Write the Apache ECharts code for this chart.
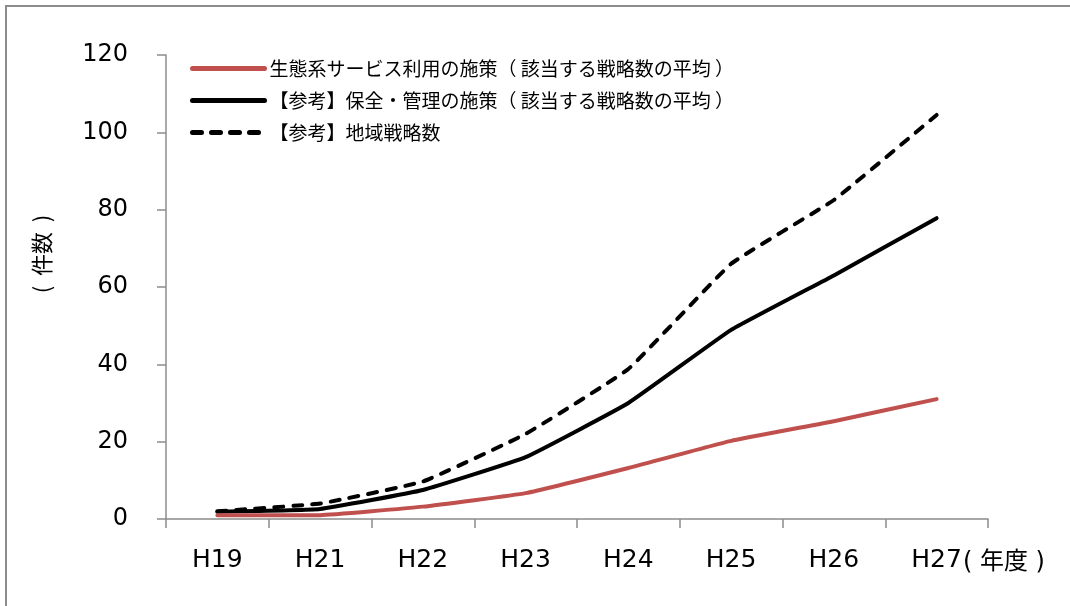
<!DOCTYPE html>
<html>
<head>
<meta charset="utf-8">
<script src="https://cdn.jsdelivr.net/npm/echarts@6/dist/echarts.min.js"></script>
<style>
html,body{margin:0;padding:0;background:#fff;}
#chart{width:1070px;height:606px;}
</style>
</head>
<body>
<div id="chart"></div>
<script>
var categories = ['H19', 'H21', 'H22', 'H23', 'H24', 'H25', 'H26', 'H27'];
var ecoServices = [1, 1, 3.2, 6.7, 13.2, 20.2, 25.3, 31];
var conservation = [1.9, 2.6, 7.5, 16, 30, 48.9, 63, 77.8];
var strategies = [2, 4, 9.7, 22, 38.8, 66, 82.5, 104.5];
var seriesNames = [
  '生態系サービス利用の施策（ 該当する戦略数の平均 ）',
  '【参考】保全・管理の施策（ 該当する戦略数の平均 ）',
  '【参考】地域戦略数'
];
var yTicks = {min: 0, max: 120, interval: 20};
var yName = '(  件数  )';
var xUnit = '( 年度 )';

var chart = echarts.init(document.getElementById('chart'));
var axisGray = '#8c8c8c';
var cjk = '"Noto Sans CJK JP", "Noto Sans", sans-serif';
chart.setOption({
  animation: false,
  backgroundColor: '#fff',
  grid: {left: 166, right: 82, top: 55, bottom: 87},
  legend: {
    orient: 'vertical',
    left: 185,
    top: 54,
    itemWidth: 72,
    itemHeight: 14,
    itemGap: 13,
    itemStyle: {opacity: 0},
    lineStyle: {width: 5},
    textStyle: {fontSize: 19, color: '#000', fontFamily: cjk},
    data: seriesNames
  },
  xAxis: {
    type: 'category',
    data: categories,
    boundaryGap: true,
    axisLine: {lineStyle: {color: axisGray, width: 1.5}},
    axisTick: {show: true, length: 9, inside: false, lineStyle: {color: axisGray, width: 1.5}},
    axisLabel: {margin: 29, fontSize: 25, color: '#000', fontFamily: '"DejaVu Sans", sans-serif'},
    splitLine: {show: false}
  },
  yAxis: {
    type: 'value',
    min: yTicks.min,
    max: yTicks.max,
    interval: yTicks.interval,
    axisLine: {show: true, lineStyle: {color: axisGray, width: 1.5}},
    axisTick: {show: true, length: 9, lineStyle: {color: axisGray, width: 1.5}},
    axisLabel: {margin: 38, fontSize: 24, color: '#000', fontFamily: '"DejaVu Sans", sans-serif'},
    splitLine: {show: false}
  },
  graphic: [
    {type: 'rect', shape: {x: 6, y: 6, width: 1200, height: 800}, style: {fill: 'none', stroke: axisGray, lineWidth: 2}, silent: true, z: -10},
    {type: 'text', x: 42, y: 254, rotation: Math.PI / 2,
     style: {text: yName, font: '22px ' + cjk, fill: '#000', textAlign: 'center', textVerticalAlign: 'middle'}},
    {type: 'text', x: 963, y: 563,
     style: {text: xUnit, font: '24px "DejaVu Sans", "Noto Sans CJK JP", sans-serif', fill: '#000', textAlign: 'left', textVerticalAlign: 'middle'}}
  ],
  series: [
    {
      name: seriesNames[0], type: 'line', data: ecoServices, smooth: 0.1,
      symbol: 'none', color: '#C0504D',
      lineStyle: {color: '#C0504D', width: 4, cap: 'round', join: 'round'}, z: 3
    },
    {
      name: seriesNames[1], type: 'line', data: conservation, smooth: 0.1,
      symbol: 'none', color: '#000',
      lineStyle: {color: '#000', width: 4, cap: 'round', join: 'round'}, z: 2
    },
    {
      name: seriesNames[2], type: 'line', data: strategies, smooth: 0.1,
      symbol: 'none', color: '#000',
      lineStyle: {color: '#000', width: 4, type: [9, 10], cap: 'round', join: 'round'}, z: 2
    }
  ]
});
</script>
</body>
</html>
